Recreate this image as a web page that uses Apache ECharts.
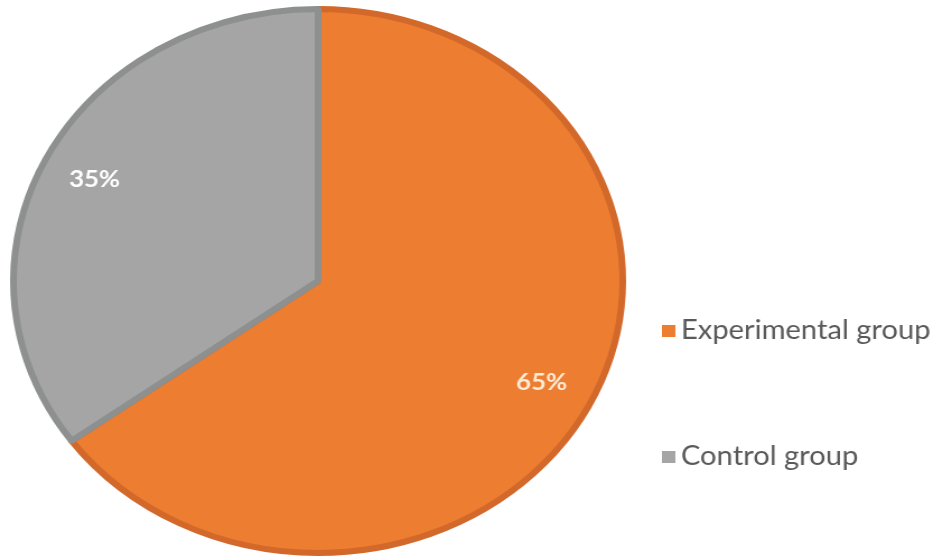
<!DOCTYPE html>
<html>
<head>
<meta charset="utf-8">
<script src="https://cdn.jsdelivr.net/npm/echarts@6/dist/echarts.min.js"></script>
<style>
html,body{margin:0;padding:0;background:#fff;overflow:hidden;}
#wrap{width:936px;height:558px;position:relative;overflow:hidden;}
#chart{width:836px;height:558px;position:absolute;left:0;top:0;transform:scaleX(1.12);transform-origin:0 0;}
</style>
</head>
<body>
<div id="wrap"><div id="chart"></div></div>
<script>
const categories = ['Experimental group', 'Control group'];
const values = [65, 35];
const labels = ['65%', '35%'];
const colors = ['#ED7D31', '#A5A5A5'];
const borderColors = ['#D2692A', '#8E8F8F'];
const labelColors = ['#FDEBD8', '#FFFFFF'];

const chart = echarts.init(document.getElementById('chart'));
const center = [284, 281];
chart.setOption({
  animation: false,
  legend: {
    orient: 'vertical',
    left: 586,
    top: 313,
    itemWidth: 12,
    itemHeight: 12,
    itemGap: 100,
    icon: 'rect',
    data: categories,
    itemStyle: { borderWidth: 0 },
    textStyle: { fontFamily: 'Lato', fontSize: 26, lineHeight: 26, color: '#595959', padding: [0, 0, 0, 0] },
    selectedMode: false
  },
  series: [
    {
      type: 'pie',
      center: center,
      radius: 272,
      startAngle: 90,
      clockwise: true,
      label: { show: false },
      labelLine: { show: false },
      silent: true,
      data: categories.map((n, i) => ({
        name: n,
        value: values[i],
        itemStyle: { color: colors[i], borderColor: borderColors[i], borderWidth: 6 }
      }))
    },
    {
      type: 'pie',
      center: center,
      radius: [170, 272],
      startAngle: 90,
      clockwise: true,
      silent: true,
      labelLine: { show: false },
      data: categories.map((n, i) => ({
        name: n,
        value: values[i],
        itemStyle: { color: 'rgba(0,0,0,0)', borderWidth: 0 },
        label: {
          show: true,
          position: 'inside',
          formatter: labels[i],
          fontFamily: 'Lato',
          fontWeight: 'bold',
          fontSize: 23,
          color: labelColors[i],
          textBorderWidth: 0
        }
      }))
    }
  ]
});
</script>
</body>
</html>
